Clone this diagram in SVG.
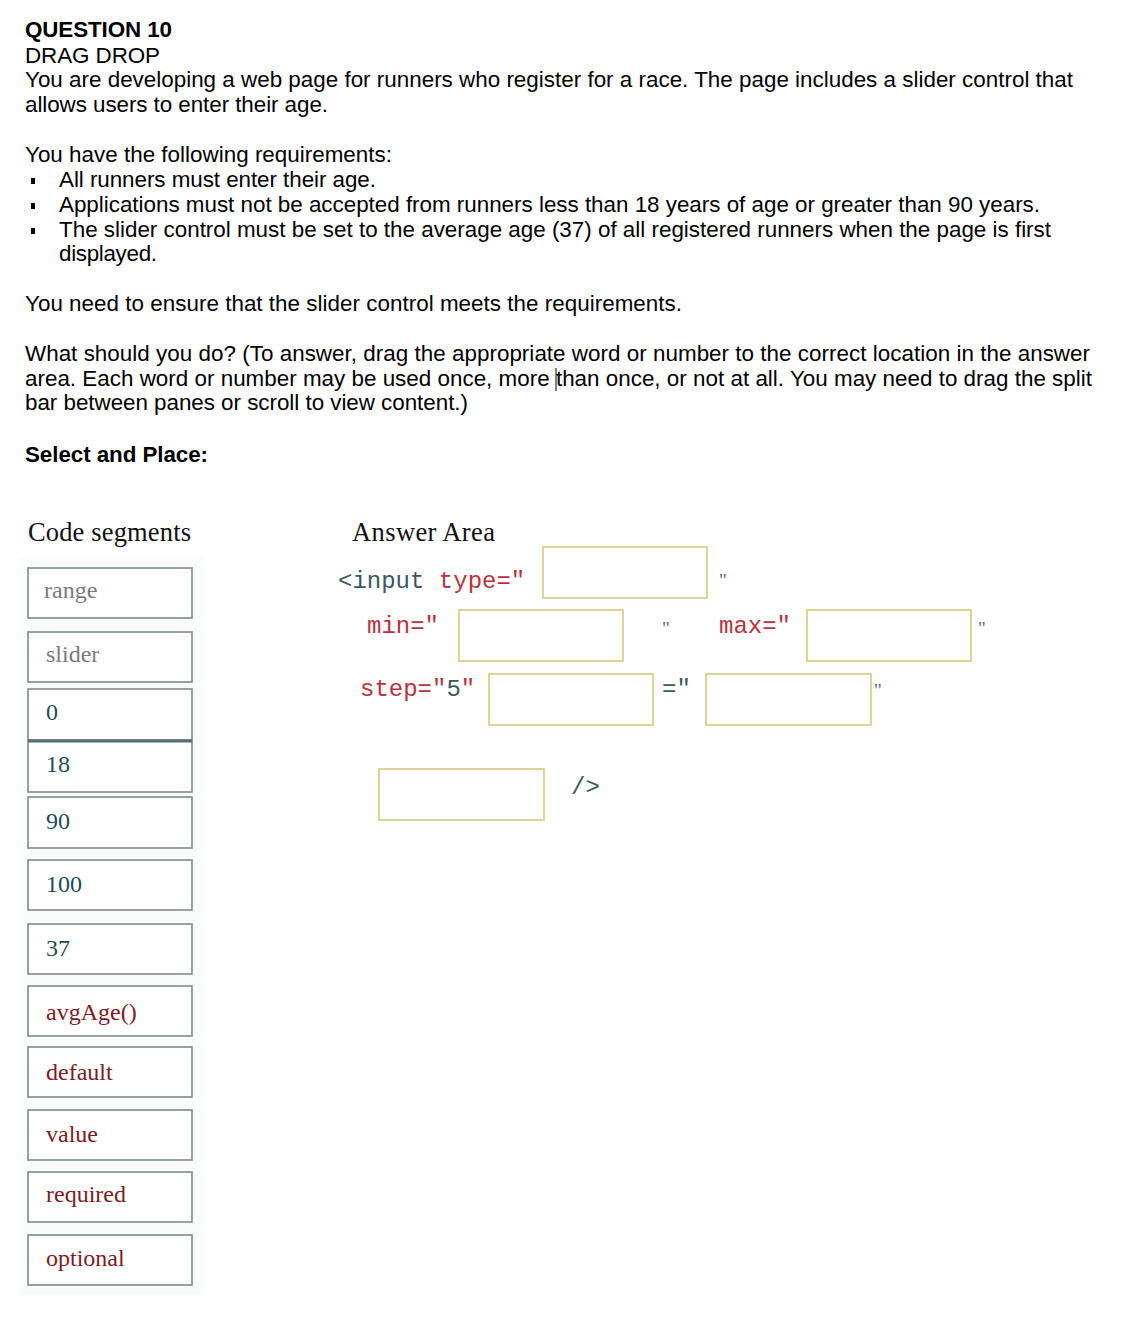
<svg xmlns="http://www.w3.org/2000/svg" width="1137" height="1330" viewBox="0 0 1137 1330">
<style>
.q{font-family:"Liberation Sans",Arial,sans-serif;font-size:22.4px;fill:#000}
.b{font-weight:bold}
.hd{font-family:"Liberation Serif","Times New Roman",serif;font-size:26.5px;fill:#111}
.seg{fill:#fff;stroke:#7d8a8c;stroke-width:1.6}
.st{font-family:"Liberation Serif","Times New Roman",serif;font-size:24px}
.gray{fill:#7a7a7a}
.num{fill:#1f4b5c}
.red{fill:#7d1c22}
.slot{fill:#fff;stroke:#d4c97a;stroke-width:1.6}
.code{font-family:"Liberation Mono","Courier New",monospace;font-size:24px}
.kw{fill:#b8323f}
.bl{fill:#3c5662}
.qt{font-family:"Liberation Serif","Times New Roman",serif;font-size:19px;fill:#556a78}
</style>
<rect width="1137" height="1330" fill="#fff"/>
<g id="question">
<text class="q b" x="25" y="37" textLength="147">QUESTION 10</text>
<text class="q" x="25" y="63" textLength="135">DRAG DROP</text>
<text class="q" x="25" y="87" textLength="1048">You are developing a web page for runners who register for a race. The page includes a slider control that</text>
<text class="q" x="25" y="112" textLength="303">allows users to enter their age.</text>
<text class="q" x="25" y="162" textLength="367">You have the following requirements:</text>
<rect x="31" y="178" width="4" height="6" fill="#000"/>
<text class="q" x="59" y="187" textLength="317">All runners must enter their age.</text>
<rect x="31" y="203" width="4" height="6" fill="#000"/>
<text class="q" x="59" y="212" textLength="981">Applications must not be accepted from runners less than 18 years of age or greater than 90 years.</text>
<rect x="31" y="228" width="4" height="6" fill="#000"/>
<text class="q" x="59" y="237" textLength="992">The slider control must be set to the average age (37) of all registered runners when the page is first</text>
<text class="q" x="59" y="261" textLength="98">displayed.</text>
<text class="q" x="25" y="311" textLength="657">You need to ensure that the slider control meets the requirements.</text>
<text class="q" x="25" y="361" textLength="1065">What should you do? (To answer, drag the appropriate word or number to the correct location in the answer</text>
<text class="q" x="25" y="386" textLength="1067">area. Each word or number may be used once, more than once, or not at all. You may need to drag the split</text>
<line x1="556" y1="368" x2="556" y2="391" stroke="#000" stroke-width="1"/>
<text class="q" x="25" y="410" textLength="443">bar between panes or scroll to view content.)</text>
<text class="q b" x="25" y="462" textLength="183">Select and Place:</text>
</g>
<rect x="19" y="558" width="185" height="737" fill="#fafcfc"/>
<text class="hd" x="28" y="541" textLength="163">Code segments</text>
<text class="hd" x="352" y="541" textLength="143">Answer Area</text>
<g id="segments">
<g id="seg-range"><rect class="seg" x="28" y="568" width="164" height="50"/><text class="st gray" x="44" y="598">range</text></g>
<g id="seg-slider"><rect class="seg" x="28" y="632" width="164" height="50"/><text class="st gray" x="46" y="662">slider</text></g>
<g id="seg-0"><rect class="seg" x="28" y="689" width="164" height="51"/><text class="st num" x="46" y="720">0</text></g>
<g id="seg-18"><rect class="seg" x="28" y="741" width="164" height="51"/><line x1="28" y1="741" x2="192" y2="741" stroke="#566c78" stroke-width="3"/><text class="st num" x="46" y="772">18</text></g>
<g id="seg-90"><rect class="seg" x="28" y="797" width="164" height="51"/><text class="st num" x="46" y="829">90</text></g>
<g id="seg-100"><rect class="seg" x="28" y="860" width="164" height="50"/><text class="st num" x="46" y="892">100</text></g>
<g id="seg-37"><rect class="seg" x="28" y="924" width="164" height="50"/><text class="st num" x="46" y="956">37</text></g>
<g id="seg-avgAge"><rect class="seg" x="28" y="986" width="164" height="50"/><text class="st red" x="46" y="1020">avgAge()</text></g>
<g id="seg-default"><rect class="seg" x="28" y="1047" width="164" height="50"/><text class="st red" x="46" y="1080">default</text></g>
<g id="seg-value"><rect class="seg" x="28" y="1110" width="164" height="50"/><text class="st red" x="46" y="1142">value</text></g>
<g id="seg-required"><rect class="seg" x="28" y="1172" width="164" height="50"/><text class="st red" x="46" y="1202">required</text></g>
<g id="seg-optional"><rect class="seg" x="28" y="1235" width="164" height="50"/><text class="st red" x="46" y="1266">optional</text></g>
</g>
<g id="answer">
<text class="code" x="338" y="588"><tspan class="bl">&lt;input</tspan> <tspan class="kw">type=″</tspan></text>
<g id="slot-type"><rect class="slot" x="543" y="547" width="164" height="51"/></g>
<text class="qt" x="719" y="587">"</text>
<text class="code kw" x="367" y="633">min=″</text>
<g id="slot-min"><rect class="slot" x="459" y="610" width="164" height="51"/></g>
<text class="qt" x="662" y="635">"</text>
<text class="code kw" x="719" y="633">max=″</text>
<g id="slot-max"><rect class="slot" x="807" y="610" width="164" height="51"/></g>
<text class="qt" x="978" y="635">"</text>
<text class="code" x="360" y="696"><tspan class="kw">step=″</tspan><tspan class="bl">5</tspan><tspan class="kw">″</tspan></text>
<g id="slot-step1"><rect class="slot" x="489" y="674" width="164" height="51"/></g>
<text class="code bl" x="662" y="696">=″</text>
<g id="slot-step2"><rect class="slot" x="706" y="674" width="165" height="51"/></g>
<text class="qt" x="874" y="697">"</text>
<g id="slot-last"><rect class="slot" x="379" y="769" width="165" height="51"/></g>
<text class="code bl" x="571" y="794">/&gt;</text>
</g>
<g id="connectors"/>
</svg>
